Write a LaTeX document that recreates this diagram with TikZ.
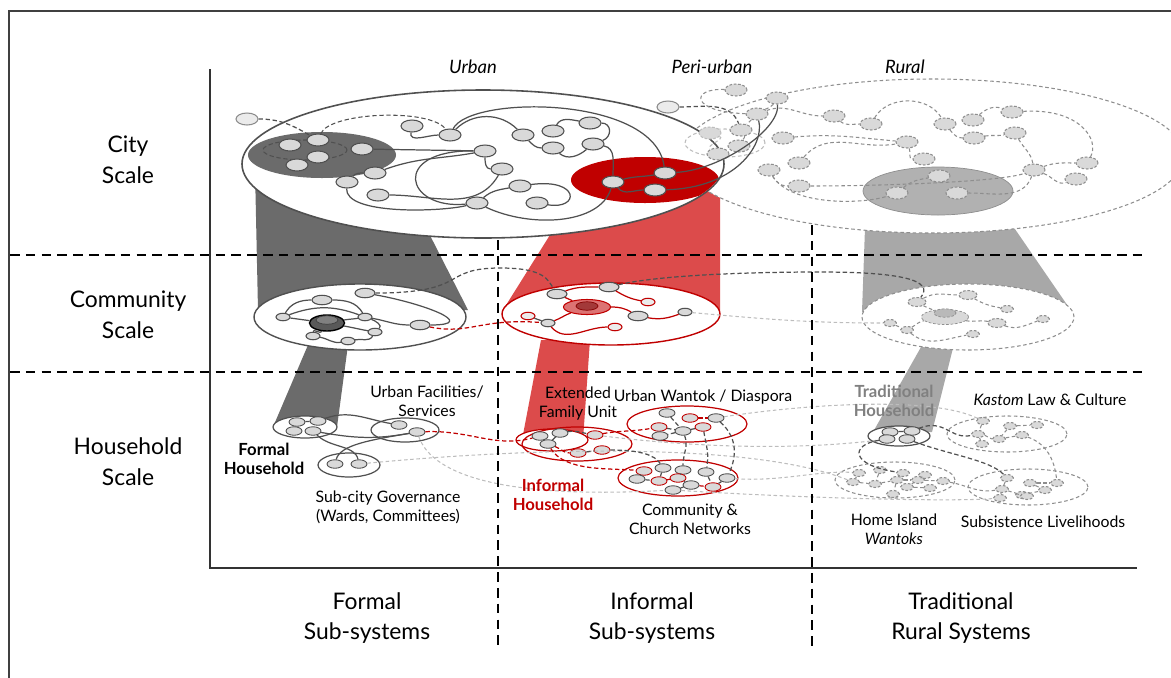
\documentclass[tikz,border=0pt]{standalone}
\usepackage{fontspec}
\setmainfont{Lato}
\usetikzlibrary{shapes.geometric}

\definecolor{nodefill}{HTML}{D9D9D9}
\definecolor{linkgray}{HTML}{505050}
\definecolor{formalgray}{HTML}{6B6B6B}
\definecolor{ruralgray}{HTML}{A8A8A8}
\definecolor{ruralline}{HTML}{8E8E8E}
\definecolor{paleline}{HTML}{BDBDBD}
\definecolor{infred}{HTML}{C00000}
\definecolor{conered}{HTML}{DC4B4B}

\tikzset{
  nd/.style={ellipse, draw=linkgray, fill=nodefill, line width=0.6pt, inner sep=0pt, minimum width=0.44cm, minimum height=0.24cm},
  ndm/.style={nd, minimum width=0.40cm, minimum height=0.19cm},
  nds/.style={nd, minimum width=0.28cm, minimum height=0.15cm},
  ndh/.style={nd, line width=0.5pt, minimum width=0.32cm, minimum height=0.17cm},
  ndr/.style={ndh, draw=infred},
  ndrs/.style={nds, draw=infred, fill=nodefill!50},
  ndl/.style={nd, draw=black!45, fill=black!8},
  ndq/.style={nd, draw=ruralline, dash pattern=on 1.5pt off 1pt},
  ndqs/.style={ndq, minimum width=0.26cm, minimum height=0.14cm},
  hub/.style={ellipse, inner sep=0pt, minimum width=0.94cm, minimum height=0.3cm},
  hubin/.style={ellipse, inner sep=0pt, minimum width=0.44cm, minimum height=0.17cm},
  lk/.style={draw=linkgray, line width=0.7pt},
  lkr/.style={draw=infred, line width=0.7pt},
  lkq/.style={draw=ruralline, line width=0.6pt, dash pattern=on 2pt off 1.5pt},
  lkp/.style={draw=paleline, line width=0.6pt, dash pattern=on 2pt off 1.5pt},
  lkd/.style={draw=linkgray, line width=0.7pt, dash pattern=on 2.5pt off 1.5pt},
  lkrd/.style={draw=infred, line width=0.7pt, dash pattern=on 2.5pt off 1.5pt},
  divide/.style={line width=1.2pt, dash pattern=on 5.5pt off 3.5pt},
  big/.style={align=center, font=\fontsize{13}{17.5}\selectfont},
  lbl/.style={align=center, font=\fontsize{9}{10.8}\selectfont, inner sep=0pt},
  head/.style={lbl, font=\fontsize{10.5}{12}\selectfont\itshape},
}

\begin{document}
\begin{tikzpicture}[x=0.02cm, y=0.02cm]
\useasboundingbox (0,0) rectangle (1171,-677);

% cones between the scales
\fill[formalgray] (255,-170) -- (412,-200) -- (468,-310) -- (258,-310) -- cycle;
\fill[formalgray] (308,-345) -- (348,-345) -- (337,-427) -- (273,-427) -- cycle;
\fill[conered] (575,-195) -- (720,-185) -- (720,-310) -- (503,-310) -- cycle;
\fill[conered] (541,-340) -- (590,-340) -- (583,-440) -- (522,-440) -- cycle;
\fill[ruralgray] (866,-200) -- (995,-200) -- (1072,-312) -- (862,-312) -- cycle;
\fill[ruralgray] (925,-340) -- (955,-340) -- (932,-432) -- (873,-432) -- cycle;

% city scale
\draw[lkq, fill=white] (932,-156) ellipse [x radius=252, y radius=77];
\draw[line width=0.9pt, draw=linkgray, fill=white] (483,-164) ellipse [x radius=241, y radius=74];
\fill[formalgray] (322,-155) ellipse [x radius=74, y radius=23];
\draw[lkd, line width=0.6pt] (305,-150) ellipse [x radius=42, y radius=10];
\begin{scope}
  \clip (483,-164) ellipse [x radius=240, y radius=73];
  \fill[infred] (645,-180) ellipse [x radius=74, y radius=23];
\end{scope}
\draw[draw=ruralline, fill=ruralgray!90] (938,-191) ellipse [x radius=75, y radius=24];
\draw[lkp] (725,-143) ellipse [x radius=40, y radius=14];

% community scale
\draw[line width=0.8pt, draw=linkgray, fill=white] (360,-317) ellipse [x radius=106, y radius=33];
\draw[line width=0.8pt, draw=infred, fill=white] (611,-314) ellipse [x radius=109, y radius=31];
\draw[lkq, fill=white] (968,-317) ellipse [x radius=106, y radius=33];

% household scale
\draw[lk, fill=white] (305,-427) ellipse [x radius=32, y radius=11];
\draw[lk] (405,-430) ellipse [x radius=34, y radius=12];
\draw[lk] (349,-465) ellipse [x radius=31, y radius=12];
\draw[lkr, fill=white] (552,-440) ellipse [x radius=36, y radius=11];
\draw[lkr] (577,-444) ellipse [x radius=55, y radius=17];
\draw[lkr] (687,-424) ellipse [x radius=60, y radius=18];
\draw[lkr] (678,-478) ellipse [x radius=60, y radius=18];
\draw[lk, fill=white] (899,-436) ellipse [x radius=31, y radius=10];
\draw[lkq] (1007,-434) ellipse [x radius=60, y radius=18];
\draw[lkq] (895,-480) ellipse [x radius=60, y radius=18];
\draw[lkq] (1028,-487) ellipse [x radius=60, y radius=18];

% urban nodes
\node[ndl] (u0) at (247,-119) {};
\node[nd] (d1) at (290,-145) {};
\node[nd] (d2) at (318,-140) {};
\node[nd] (d3) at (318,-157) {};
\node[nd] (d4) at (297,-165) {};
\node[nd] (d5) at (362,-149) {};
\node[nd] (u1) at (412,-126) {};
\node[nd] (u2) at (450,-135) {};
\node[nd] (u3) at (485,-151) {};
\node[nd] (u4) at (502,-169) {};
\node[nd] (u5) at (523,-135) {};
\node[nd] (u6) at (553,-131) {};
\node[nd] (u7) at (590,-123) {};
\node[nd] (u8) at (553,-148) {};
\node[nd] (u9) at (593,-144) {};
\node[nd] (u10) at (375,-173) {};
\node[nd] (u11) at (347,-182) {};
\node[nd] (u12) at (378,-195) {};
\node[nd] (u13) at (520,-186) {};
\node[nd] (u14) at (477,-203) {};
\node[nd] (u15) at (537,-203) {};
\node[nd] (r1) at (613,-182) {};
\node[nd] (r2) at (665,-173) {};
\node[nd] (r3) at (655,-190) {};

% peri-urban and rural nodes
\node[ndl] (p0) at (668,-107) {};
\node[ndq] (p1) at (736,-90) {};
\node[ndq] (p2) at (777,-98) {};
\node[ndq] (p3) at (757,-114) {};
\node[ndq] (p4) at (741,-130) {};
\node[ndq, draw=paleline] (p5) at (710,-133) {};
\node[ndq] (p6) at (739,-146) {};
\node[ndq] (p7) at (718,-154) {};
\node[ndq] (q1) at (834,-116) {};
\node[ndq] (q2) at (871,-124) {};
\node[ndq] (q3) at (945,-124) {};
\node[ndq] (q4) at (973,-120) {};
\node[ndq] (q5) at (1012,-112) {};
\node[ndq] (q6) at (974,-138) {};
\node[ndq] (q7) at (1015,-133) {};
\node[ndq] (q8) at (783,-138) {};
\node[ndq] (q9) at (907,-142) {};
\node[ndq] (q10) at (799,-163) {};
\node[ndq] (q11) at (924,-159) {};
\node[ndq] (q12) at (769,-170) {};
\node[ndq] (q13) at (799,-186) {};
\node[ndq] (q14) at (1034,-170) {};
\node[ndq] (q15) at (1087,-163) {};
\node[ndq] (q16) at (1076,-179) {};
\node[ndq] (g1) at (939,-176) {};
\node[ndq] (g2) at (897,-193) {};
\node[ndq] (g3) at (957,-193) {};

% city links
\draw[lkd] (u0) to[out=0,in=150] (d2);
\draw[lkd, line width=0.6pt] (d2) .. controls (330,-112) and (430,-108) .. (u2);
\draw[lk] (u1) to[out=-100,in=180] (u2);
\draw[lk] (u2) to[out=45,in=135] (u5);
\draw[lk] (u2) .. controls (470,-95) and (655,-95) .. (r2);
\draw[lk] (u5) to[out=-45,in=180] (u8);
\draw[lk] (u6) to[out=60,in=170] (u7);
\draw[lk] (u7) to[out=0,in=20,looseness=1.5] (u9);
\draw[lk] (u8) to[out=-40,in=-140] (u9);
\draw[lk] (u9) to[out=-10,in=90] (r1);
\draw[lk] (d5) -- (u3);
\draw[lk] (u3) to[out=-90,in=180] (u4);
\draw[lk] (u11) to[out=45,in=180] (u10);
\draw[lk] (u10) to[out=20,in=190] (u3);
\draw[lk] (u3) .. controls (390,-150) and (405,-210) .. (u14);
\draw[lk] (u12) to[out=0,in=-120] (u4);
\draw[lk] (u11) .. controls (345,-215) and (440,-212) .. (u14);
\draw[lk] (u14) to[out=40,in=190] (u13);
\draw[lk] (u13) .. controls (580,-178) and (580,-210) .. (u15);
\draw[lk] (u14) .. controls (530,-228) and (600,-225) .. (r1);
\draw[lk] (r1) to[out=15,in=190] (r2);
\draw[lk] (r1) to[out=-50,in=180] (r3);
\draw[lk] (r2) .. controls (720,-170) and (780,-130) .. (p2);
\draw[lk] (r3) .. controls (735,-188) and (765,-145) .. (p3);

\draw[lkd] (p0) to[out=0,in=110] (p4);
\draw[lkq] (p1) .. controls (690,-88) and (690,-112) .. (p3);
\draw[lkq] (p3) -- (p4);
\draw[lkq] (p4) to[out=-60,in=60] (p6);
\draw[lkq] (p2) to[out=-120,in=30] (p3);
\draw[lkp] (p5) to[out=-20,in=150] (p7);
\draw[lkq] (p3) to[out=20,in=180] (q1);
\draw[lkq] (q1) to[out=-40,in=180] (q2);
\draw[lkq] (q2) to[out=60,in=120] (q3);
\draw[lkq] (q3) to[out=-50,in=180] (q6);
\draw[lkq] (q4) to[out=40,in=160] (q5);
\draw[lkq] (q5) .. controls (1080,-108) and (1100,-140) .. (q15);
\draw[lkq] (q6) to[out=10,in=190] (q7);
\draw[lkq] (q7) to[out=-60,in=100] (q14);
\draw[lkq] (q8) to[out=5,in=175] (q9);
\draw[lkq] (q9) to[out=-70,in=180] (q11);
\draw[lkq] (q10) to[out=50,in=190] (q9);
\draw[lkq] (q12) to[out=-60,in=180] (q13);
\draw[lkq] (q13) .. controls (880,-186) and (1000,-182) .. (q14);
\draw[lkq] (q12) .. controls (790,-205) and (860,-205) .. (g2);
\draw[lkq] (g2) to[out=40,in=190] (g1);
\draw[lkq] (q14) to[out=-20,in=200] (q16);
\draw[lkq] (q14) to[out=20,in=180] (q15);
\draw[lkq] (q14) to[out=-110,in=0] (g3);

% community nodes
\node[ndm] (a1) at (365,-293) {};
\node[ndm] (a2) at (322,-300) {};
\node[nds] (a3) at (283,-317) {};
\node[nds] (a5) at (365,-317) {};
\node[ndm] (a6) at (420,-325) {};
\node[nds] (a7) at (375,-332) {};
\node[nds] (a8) at (313,-336) {};
\node[nds] (a9) at (348,-341) {};
\node[hub, draw=black, fill=black!65, line width=0.8pt, minimum width=0.7cm, minimum height=0.32cm] (a4) at (327,-323) {};
\node[hubin, fill=black!50, draw=black!75] (a4i) at (327,-320) {};

\node[ndm] (b1) at (557,-294) {};
\node[ndm] (b2) at (609,-287) {};
\node[ndrs] (b3) at (648,-302) {};
\node[hub, draw=infred, fill=infred!55, line width=0.6pt] (b4) at (587,-307) {};
\node[hubin, draw=infred!70!black, fill=infred!55!gray] (b4i) at (587,-306) {};
\node[ndrs] (b5) at (528,-316) {};
\node[nds] (b6) at (548,-323) {};
\node[ndm] (b7) at (638,-316) {};
\node[ndrs] (b8) at (615,-327) {};
\node[nds] (b9) at (685,-312) {};

\node[ndq, minimum width=0.36cm, minimum height=0.18cm] (c1) at (917,-302) {};
\node[ndq, minimum width=0.36cm, minimum height=0.18cm] (c2) at (968,-295) {};
\node[ndqs] (c3) at (1007,-309) {};
\node[hub, draw=ruralline, fill=nodefill, dash pattern=on 1.5pt off 1pt] (c4) at (945,-317) {};
\node[hubin, draw=ruralline, fill=ruralgray!80, dash pattern=on 1.5pt off 1pt] (c4i) at (945,-313) {};
\node[ndqs] (c5) at (890,-323) {};
\node[ndqs] (c6) at (907,-330) {};
\node[ndq, minimum width=0.36cm, minimum height=0.18cm] (c7) at (997,-323) {};
\node[ndqs] (c8) at (973,-334) {};
\node[ndqs] (c9) at (1043,-319) {};

% community links
\draw[lk] (a2) to[out=180,in=60] (a3);
\draw[lk] (a2) to[out=0,in=120] (a5);
\draw[lk] (a3) to[out=20,in=160] (a5);
\draw[lk] (a3) -- (a4);
\draw[lk] (a4) to[out=10,in=190] (a5);
\draw[lk] (a4) to[out=-10,in=170] (a7);
\draw[lk] (a4) to[out=-120,in=90] (a8);
\draw[lk] (a8) to[out=-10,in=190] (a9);
\draw[lk] (a9) to[out=10,in=-120] (a7);
\draw[lk] (a5) to[out=-20,in=40] (a7);
\draw[lk] (a1) to[out=-10,in=0,looseness=2] (a6);
\draw[lk] (a5) to[out=-10,in=180] (a6);

\draw[lkr] (b1) to[out=20,in=180] (b2);
\draw[lkr] (b2) to[out=-30,in=170] (b3);
\draw[lkr] (b1) -- (b4);
\draw[lkr] (b4) to[out=0,in=150] (b7);
\draw[lkr] (b4) to[out=200,in=20] (b6);
\draw[lk] (b5) -- (b6);
\draw[lkr] (b6) to[out=-50,in=180] (b8);
\draw[lkr] (b7) to[out=-10,in=200] (b9);

\draw[lkq] (c1) to[out=30,in=180] (c2);
\draw[lkq] (c2) to[out=-30,in=170] (c3);
\draw[lkq] (c1) to[out=-30,in=150] (c4);
\draw[lkq] (c4) to[out=-10,in=170] (c7);
\draw[lkq] (c7) to[out=-20,in=200] (c9);
\draw[lkq] (c5) -- (c6);
\draw[lkq] (c6) to[out=30,in=190] (c4);
\draw[lkq] (c6) to[out=-40,in=190] (c8);

\draw[lkd] (a1) .. controls (470,-293) and (440,-268) .. (500,-268) .. controls (545,-268) and (548,-280) .. (b1);
\draw[lkrd] (a6) .. controls (470,-335) and (480,-318) .. (b6);
\draw[lkd] (b2) .. controls (660,-275) and (750,-272) .. (820,-272) .. controls (900,-272) and (935,-280) .. (c1);
\draw[lkp] (b9) to[out=-5,in=180] (c5);

% household nodes
\node[ndh] (fh1) at (297,-422) {};
\node[ndh] (fh2) at (318,-421) {};
\node[ndh] (fh3) at (294,-431) {};
\node[ndh] (fh4) at (313,-431) {};
\node[ndh] (f1) at (399,-425) {};
\node[ndh] (f2) at (417,-432) {};
\node[ndh] (s1) at (335,-464) {};
\node[ndh] (s2) at (359,-464) {};

\node[ndh] (e1) at (540,-436) {};
\node[ndh] (e2) at (560,-433) {};
\node[ndh] (e3) at (548,-444) {};
\node[ndr] (e4) at (595,-435) {};
\node[ndr] (e5) at (578,-453) {};
\node[ndr] (e6) at (602,-450) {};
\node[ndh] (w1) at (667,-413) {};
\node[ndr] (w2) at (690,-418) {};
\node[ndh] (w3) at (716,-418) {};
\node[ndr] (w4) at (659,-427) {};
\node[ndh] (w5) at (683,-431) {};
\node[ndr] (w6) at (703,-427) {};
\node[ndh] (w7) at (660,-436) {};
\node[ndh] (ch1) at (663,-468) {};
\node[ndh] (ch2) at (683,-470) {};
\node[ndh] (ch3) at (706,-472) {};
\node[ndr] (ch4) at (644,-471) {};
\node[ndh] (ch5) at (637,-479) {};
\node[ndr] (ch6) at (659,-481) {};
\node[ndr] (ch7) at (678,-478) {};
\node[ndh] (ch8) at (727,-478) {};
\node[ndh] (ch9) at (691,-485) {};
\node[ndh] (ch10) at (673,-490) {};
\node[ndr] (ch11) at (713,-487) {};

\node[ndh] (t1) at (890,-432) {};
\node[ndh] (t2) at (912,-431) {};
\node[ndh] (t3) at (887,-439) {};
\node[ndh] (t4) at (907,-439) {};
\node[ndqs] (k1) at (983,-421) {};
\node[ndqs] (k2) at (1010,-426) {};
\node[ndqs] (k3) at (1037,-425) {};
\node[ndqs] (k4) at (978,-434) {};
\node[ndqs] (k5) at (999,-439) {};
\node[ndqs] (k6) at (1022,-435) {};
\node[ndqs] (k7) at (982,-444) {};
\node[ndqs] (h1) at (859,-473) {};
\node[ndqs] (h2) at (880,-470) {};
\node[ndqs] (h3) at (903,-473) {};
\node[ndqs] (h4) at (925,-475) {};
\node[ndqs] (h5) at (853,-482) {};
\node[ndqs] (h6) at (875,-484) {};
\node[ndqs] (h7) at (897,-480) {};
\node[ndqs] (h8) at (918,-480) {};
\node[ndqs] (h9) at (943,-481) {};
\node[ndqs] (h10) at (907,-487) {};
\node[ndqs] (h11) at (930,-488) {};
\node[ndqs] (h12) at (893,-494) {};
\node[ndqs] (v1) at (1007,-478) {};
\node[ndqs] (v2) at (1030,-483) {};
\node[ndqs] (v3) at (1057,-483) {};
\node[ndqs] (v4) at (1002,-489) {};
\node[ndqs] (v5) at (1022,-495) {};
\node[ndqs] (v6) at (1045,-490) {};
\node[ndqs] (v7) at (1000,-498) {};
\node[ndqs] (v8) at (1027,-496) {};

% household links
\draw[lk] (fh1) -- (fh2);
\draw[lk] (fh2) to[out=20,in=170] (f1);
\draw[lk] (fh4) to[out=-10,in=190] (f2);
\draw[lk] (fh4) .. controls (330,-448) and (355,-445) .. (s2);
\draw[lk] (f2) .. controls (370,-440) and (340,-445) .. (s1);
\draw[lkrd] (f2) .. controls (470,-430) and (495,-448) .. (e1);
\draw[lkp] (s2) .. controls (560,-445) and (760,-445) .. (h5);
\draw[lkp] (f2) .. controls (440,-495) and (580,-495) .. (ch10);
\draw[lkp] (ch8) .. controls (780,-482) and (820,-470) .. (h1);
\draw[lkp] (w3) .. controls (800,-405) and (930,-395) .. (k1);
\draw[lkp] (e4) .. controls (700,-448) and (800,-450) .. (t3);
\draw[lkp] (ch10) .. controls (800,-498) and (950,-502) .. (v7);

\draw[lkd] (e1) -- (e3);
\draw[lkd] (e2) -- (e3);
\draw[lkd] (e2) to[out=10,in=170] (e4);
\draw[lkrd] (e3) to[out=-20,in=180] (e5);
\draw[lkd] (e5) -- (e6);
\draw[lkrd] (e4) to[out=10,in=190] (w4);
\draw[lkrd] (e3) .. controls (565,-472) and (610,-468) .. (ch4);
\draw[lkd] (e6) .. controls (640,-450) and (655,-455) .. (ch1);
\draw[lkd] (w1) -- (w5);
\draw[lkd] (w4) -- (w5);
\draw[lkd] (w5) -- (w6);
\draw[lkd] (w5) -- (w7);
\draw[lkrd] (w2) -- (w3);
\draw[lkd] (w5) to[out=-70,in=90] (ch2);
\draw[lkd] (w6) to[out=-80,in=80] (ch3);
\draw[lkd] (w3) .. controls (740,-440) and (735,-460) .. (ch8);
\draw[lkd] (ch1) -- (ch6);
\draw[lkd] (ch4) -- (ch5);
\draw[lkd] (ch5) -- (ch6);
\draw[lkrd] (ch6) -- (ch7);
\draw[lkd] (ch2) -- (ch7);
\draw[lkd] (ch7) -- (ch9);
\draw[lkd] (ch9) -- (ch10);
\draw[lkd] (ch3) -- (ch11);
\draw[lkd] (ch11) -- (ch8);
\draw[lkrd] (ch9) -- (ch11);

\draw[lk] (t1) -- (t2);
\draw[lkd] (t2) .. controls (945,-418) and (950,-440) .. (k4);
\draw[lkd] (t3) .. controls (850,-445) and (850,-465) .. (h3);
\draw[lkd] (t4) .. controls (950,-455) and (990,-460) .. (v1);
\draw[lkq] (k1) -- (k4);
\draw[lkq] (k4) -- (k7);
\draw[lkq] (k4) to[out=-10,in=180] (k5);
\draw[lkq] (k2) -- (k5);
\draw[lkq] (k5) -- (k6);
\draw[lkq] (k2) -- (k3);
\draw[lkq] (k6) .. controls (1050,-445) and (1055,-465) .. (v3);
\draw[lkq] (h1) -- (h5);
\draw[lkq] (h5) -- (h6);
\draw[lkq] (h2) -- (h6);
\draw[lkq] (h6) -- (h7);
\draw[lkq] (h3) -- (h7);
\draw[lkq] (h7) -- (h12);
\draw[lkq] (h7) -- (h8);
\draw[lkq] (h4) -- (h8);
\draw[lkq] (h8) -- (h10);
\draw[lkq] (h10) -- (h11);
\draw[lkq] (h8) -- (h9);
\draw[lkq] (h9) to[out=-10,in=190] (v4);
\draw[lkq] (v1) -- (v4);
\draw[lkq] (v4) -- (v7);
\draw[lkq] (v4) -- (v5);
\draw[lkq] (v5) -- (v8);
\draw[lkq] (v5) -- (v6);
\draw[lkq] (v2) -- (v6);
\draw[lkq] (v2) -- (v3);

% dividers and axes
\draw[divide] (10,-255) -- (1147,-255);
\draw[divide] (10,-372) -- (1147,-372);
\draw[divide] (498,-240) -- (498,-650);
\draw[divide] (812,-225) -- (812,-650);
\draw[line width=1pt, black!80] (210,-69) -- (210,-568) -- (1137,-568);
\draw[line width=1.1pt, black!75] (9,-690) -- (9,-11) -- (1180,-11);

% labels
\node[big] (lcity) at (128,-160) {City\\Scale};
\node[big] (lcomm) at (128,-315) {Community\\Scale};
\node[big] (lhh) at (128,-462) {Household\\Scale};
\node[big] (lformal) at (367,-618) {Formal\\Sub-systems};
\node[big] (linformal) at (652,-618) {Informal\\Sub-systems};
\node[big] (ltrad) at (961,-618) {Traditional\\Rural Systems};
\node[head] (lurban) at (473,-67) {Urban};
\node[head] (lperi) at (712,-67) {Peri-urban};
\node[head] (lrural) at (905,-67) {Rural};

\node[lbl] (tfac) at (427,-401) {Urban Facilities/\\Services};
\node[lbl, font=\fontsize{9.5}{11}\selectfont\bfseries] (tfhh) at (264,-459) {Formal\\Household};
\node[lbl] (tsub) at (388,-507) {Sub-city Governance\\(Wards, Committees)};
\node[lbl] (text) at (578,-404) {Extended\\Family Unit};
\node[lbl] (twan) at (703,-397) {Urban Wantok / Diaspora};
\node[lbl, text=infred, font=\fontsize{9.5}{11}\selectfont\bfseries] (tihh) at (553,-495) {Informal\\Household};
\node[lbl] (tchu) at (690,-519) {Community \&\\Church Networks};
\node[lbl, text=black!50, font=\fontsize{9.5}{11}\selectfont\bfseries] (tthh) at (894,-401) {Traditional\\Household};
\node[lbl] (tkas) at (1050,-400) {\textit{Kastom} Law \& Culture};
\node[lbl] (thome) at (894,-529) {Home Island\\\textit{Wantoks}};
\node[lbl] (tlive) at (1043,-522) {Subsistence Livelihoods};
\end{tikzpicture}
\end{document}
